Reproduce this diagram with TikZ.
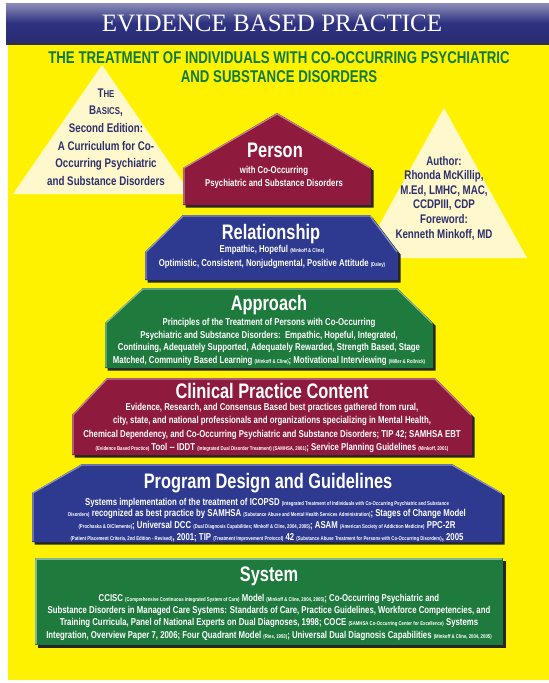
\documentclass[tikz,border=0pt]{standalone}
\usepackage{fontspec}
\setmainfont{Liberation Serif}
\newfontfamily\condfont[FakeStretch=0.78]{Liberation Sans}
\usetikzlibrary{shadows}

\definecolor{bandblue}{HTML}{2E3180}
\definecolor{bgyellow}{HTML}{FFF200}
\definecolor{subgreen}{HTML}{0F7A3C}
\definecolor{cream}{HTML}{FFF8CC}
\definecolor{inkblue}{HTML}{2B2F6E}
\definecolor{layermaroon}{HTML}{8E1B3E}
\definecolor{layerblue}{HTML}{2D3A8F}
\definecolor{layergreen}{HTML}{1F7A3E}

\newcommand{\sm}[1]{{\fontsize{5.5}{6}\selectfont #1}}

\tikzset{
  layer/.style={drop shadow={shadow xshift=2.5pt,shadow yshift=-2.5pt,fill=black!85,opacity=1}},
  bevel/.style={line width=1.2pt,line join=round},
  headtext/.style={text=white,font=\condfont\bfseries\fontsize{21}{21}\selectfont},
  bodytext/.style={text=white,align=center,font=\condfont\bfseries\fontsize{10}{13}\selectfont},
  corner/.style={text=inkblue,align=center,font=\condfont\bfseries\fontsize{12.5}{17.6}\selectfont},
}

\begin{document}
\begin{tikzpicture}[x=1pt,y=-1pt]
\useasboundingbox (0,0) rectangle (549,683);

% page and title band
\fill[bgyellow] (8,42) rectangle (549,680);
\shade[top color=bandblue!55!white,bottom color=bandblue!90!black,middle color=bandblue] (6,3) rectangle (549,43);
\draw[black!80,line width=1.5pt] (6,44) -- (549,44);
\node[text=white,font=\fontsize{25}{25}\selectfont] (title) at (272,23) {EVIDENCE\ BASED\ PRACTICE};
\node[text=subgreen,align=center,font=\condfont\bfseries\fontsize{17}{19}\selectfont] (subtitle) at (279,67)
  {THE TREATMENT OF INDIVIDUALS WITH CO-OCCURRING PSYCHIATRIC\\AND SUBSTANCE DISORDERS};

% side triangles
\fill[cream] (13,194) -- (102,65) -- (191,194) -- cycle;
\fill[cream] (361,258) -- (444,108) -- (527,258) -- cycle;
\node[corner] (book) at (106,137) {T{\fontsize{10}{10}\selectfont HE}\\B{\fontsize{10}{10}\selectfont ASICS},\\Second Edition:\\A Curriculum for Co-\\Occurring Psychiatric\\and Substance Disorders};
\node[corner,font=\condfont\bfseries\fontsize{12.5}{14.6}\selectfont] (author) at (444,198) {Author:\\Rhonda McKillip,\\M.Ed, LMHC, MAC,\\CCDPIII, CDP\\Foreword:\\Kenneth Minkoff, MD};

% pyramid
\fill[layermaroon,layer] (183,205) -- (183,168) -- (277,113) -- (371,168) -- (371,205) -- cycle;
\draw[bevel,layermaroon!55!white] (184,204) -- (184,168) -- (277,114) -- (370,168);
\node[headtext] (person) at (275,150) {Person};
\node[bodytext] (persontext) at (274,177) {with Co-Occurring\\Psychiatric and Substance Disorders};

\fill[layerblue,layer] (145,280) -- (145,252) -- (183,215) -- (370,215) -- (398,252) -- (398,280) -- cycle;
\draw[bevel,layerblue!55!white] (146,279) -- (146,252) -- (183,216) -- (370,216) -- (397,252);
\node[headtext] (relationship) at (271,234) {Relationship};
\node[bodytext,font=\condfont\bfseries\fontsize{10}{14}\selectfont] (relationshiptext) at (272,257)
  {Empathic, Hopeful \sm{(Minkoff \& Cline)}\\Optimistic, Consistent, Nonjudgmental, Positive Attitude \sm{(Daley)}};

\fill[layergreen,layer] (105,368) -- (105,323) -- (143,288) -- (397,288) -- (433,323) -- (433,368) -- cycle;
\draw[bevel,layergreen!55!white] (106,367) -- (106,323) -- (143,289) -- (397,289) -- (432,323);
\node[headtext] (approach) at (269,305) {Approach};
\node[bodytext,font=\condfont\bfseries\fontsize{10}{12.7}\selectfont] (approachtext) at (269,342)
  {Principles of the Treatment of Persons with Co-Occurring\\
   Psychiatric and Substance Disorders:\ \ Empathic, Hopeful, Integrated,\\
   Continuing, Adequately Supported, Adequately Rewarded, Strength Based, Stage\\
   Matched, Community Based Learning \sm{(Minkoff \& Cline)}; Motivational Interviewing \sm{(Miller \& Rollnick)}};

\fill[layermaroon,layer] (72,455) -- (72,415) -- (107,378) -- (435,378) -- (472,415) -- (472,455) -- cycle;
\draw[bevel,layermaroon!55!white] (73,454) -- (73,415) -- (107,379) -- (435,379) -- (471,415);
\node[headtext] (clinical) at (272,391) {Clinical Practice Content};
\node[bodytext,font=\condfont\bfseries\fontsize{10}{13.3}\selectfont] (clinicaltext) at (272,428)
  {Evidence, Research, and Consensus Based best practices gathered from rural,\\
   city, state, and national professionals and organizations specializing in Mental Health,\\
   Chemical Dependency, and Co-Occurring Psychiatric and Substance Disorders; TIP 42; SAMHSA EBT\\
   \sm{(Evidence Based Practice)} Tool -- IDDT \sm{(Integrated Dual Disorder Treatment) (SAMHSA, 2001)}; Service Planning Guidelines \sm{(Minkoff, 2001)}};

\fill[layerblue,layer] (32,542) -- (32,493) -- (82,464) -- (452,464) -- (502,493) -- (502,542) -- cycle;
\draw[bevel,layerblue!55!white] (33,541) -- (33,493) -- (82,465) -- (452,465) -- (501,493);
\node[headtext] (program) at (268,483) {Program Design and Guidelines};
\node[bodytext,font=\condfont\bfseries\fontsize{10}{11.8}\selectfont] (programtext) at (267,520)
  {Systems implementation of the treatment of ICOPSD \sm{(Integrated Treatment of Individuals with Co-Occurring Psychiatric and Substance}\\
   \sm{Disorders)} recognized as best practice by SAMHSA \sm{(Substance Abuse and Mental Health Services Administration)}; Stages of Change Model\\
   \sm{(Prochaska \& DiClemente)}; Universal DCC \sm{(Dual Diagnosis Capabilities; Minkoff \& Cline, 2004, 2005)}; ASAM \sm{(American Society of Addiction Medicine)} PPC-2R\\
   \sm{(Patient Placement Criteria, 2nd Edition - Revised)}, 2001; TIP \sm{(Treatment Improvement Protocol)} 42 \sm{(Substance Abuse Treatment for Persons with Co-Occurring Disorders)}, 2005};

\fill[layergreen,layer] (35,558) rectangle (503,645);
\draw[bevel,layergreen!55!white] (36,644) -- (36,559) -- (502,559);
\node[headtext] (system) at (269,576) {System};
\node[bodytext,font=\condfont\bfseries\fontsize{10}{12.3}\selectfont] (systemtext) at (269,617)
  {CCISC \sm{(Comprehensive Continuous Integrated System of Care)} Model \sm{(Minkoff \& Cline, 2004, 2005)}; Co-Occurring Psychiatric and\\
   Substance Disorders in Managed Care Systems: Standards of Care, Practice Guidelines, Workforce Competencies, and\\
   Training Curricula, Panel of National Experts on Dual Diagnoses, 1998; COCE \sm{(SAMHSA Co-Occurring Center for Excellence)} Systems\\
   Integration, Overview Paper 7, 2006; Four Quadrant Model \sm{(Ries, 1993)}; Universal Dual Diagnosis Capabilities \sm{(Minkoff \& Cline, 2004, 2005)}};
\end{tikzpicture}
\end{document}
